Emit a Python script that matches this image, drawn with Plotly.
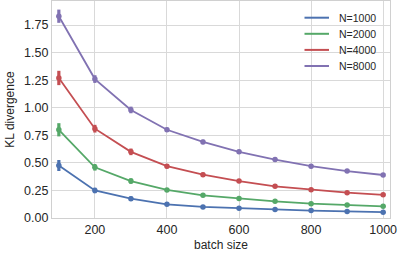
import plotly.graph_objects as go

batch_size = [100, 200, 300, 400, 500, 600, 700, 800, 900, 1000]
series_names = ["N=1000", "N=2000", "N=4000", "N=8000"]
kl_n1000 = [0.476, 0.25, 0.175, 0.124, 0.100, 0.088, 0.076, 0.067, 0.060, 0.053]
kl_n2000 = [0.80, 0.46, 0.335, 0.254, 0.206, 0.176, 0.151, 0.130, 0.118, 0.106]
kl_n4000 = [1.27, 0.81, 0.60, 0.47, 0.393, 0.335, 0.287, 0.257, 0.230, 0.210]
kl_n8000 = [1.83, 1.26, 0.98, 0.80, 0.69, 0.60, 0.53, 0.47, 0.426, 0.390]
err_n1000 = [0.05, 0.025, 0.02, 0.012, 0.01, 0.01, 0.008, 0.008, 0.008, 0.008]
err_n2000 = [0.06, 0.03, 0.025, 0.015, 0.012, 0.012, 0.01, 0.01, 0.01, 0.01]
err_n4000 = [0.065, 0.035, 0.03, 0.02, 0.018, 0.015, 0.015, 0.012, 0.012, 0.012]
err_n8000 = [0.06, 0.035, 0.03, 0.02, 0.02, 0.018, 0.018, 0.018, 0.015, 0.015]
colors = ["#4C72B0", "#55A868", "#C44E52", "#8172B2"]
x_ticks = [200, 400, 600, 800, 1000]
y_ticks = [0.0, 0.25, 0.5, 0.75, 1.0, 1.25, 1.5, 1.75]

W, H = 399, 253
ML, MR, MT, MB = 52, 9, 1, 35
PW, PH = W - ML - MR, H - MT - MB

fig = go.Figure()
for name, ys, es, c in zip(series_names, [kl_n1000, kl_n2000, kl_n4000, kl_n8000],
                           [err_n1000, err_n2000, err_n4000, err_n8000], colors):
    fig.add_trace(go.Scatter(
        x=batch_size, y=ys, name=name, mode="lines+markers", showlegend=False,
        line=dict(color=c, width=1.8),
        marker=dict(color=c, size=5.5),
        error_y=dict(type="data", array=es, visible=True, color=c, thickness=3.2, width=0),
    ))

# legend drawn as a compact list (lines only, tight spacing as in the original)
def px_x(p):
    return (p - ML) / PW

def px_y(p):
    return (H - MB - p) / PH

for i, (name, c) in enumerate(zip(series_names, colors)):
    yy = px_y(17.7 + 16.1 * i)
    fig.add_shape(type="line", xref="paper", yref="paper",
                  x0=px_x(304.5), x1=px_x(329), y0=yy, y1=yy,
                  line=dict(color=c, width=2))
    fig.add_annotation(xref="paper", yref="paper", x=px_x(337), y=yy,
                       xanchor="left", yanchor="middle", text=name, showarrow=False,
                       font=dict(size=10.5, color="#262626"))

font = "Arial, Liberation Sans, sans-serif"
fig.update_layout(
    width=W, height=H,
    margin=dict(l=ML, r=MR, t=MT, b=MB),
    paper_bgcolor="white", plot_bgcolor="white",
    font=dict(family=font, size=12, color="#262626"),
    showlegend=False,
    xaxis=dict(range=[81, 1019], tickvals=x_ticks, ticktext=[str(v) for v in x_ticks],
               showgrid=True, gridcolor="#d9d9d9", gridwidth=1,
               showline=True, linecolor="#d0d0d0", linewidth=1.2, mirror=True,
               zeroline=False, ticks="", ticklen=0,
               title=dict(text="batch size", font=dict(size=12), standoff=4),
               tickfont=dict(size=12.5)),
    yaxis=dict(range=[0, 1.968], tickvals=y_ticks, ticktext=["%.2f" % v for v in y_ticks],
               showgrid=True, gridcolor="#d9d9d9", gridwidth=1,
               showline=True, linecolor="#d0d0d0", linewidth=1.2, mirror=True,
               zeroline=False, ticks="", ticklen=0,
               title=dict(text="KL divergence", font=dict(size=12), standoff=6),
               tickfont=dict(size=12.5)),
)
fig.write_html("out.html", config={"displayModeBar": False},
               post_script="document.body.style.margin='0';")
